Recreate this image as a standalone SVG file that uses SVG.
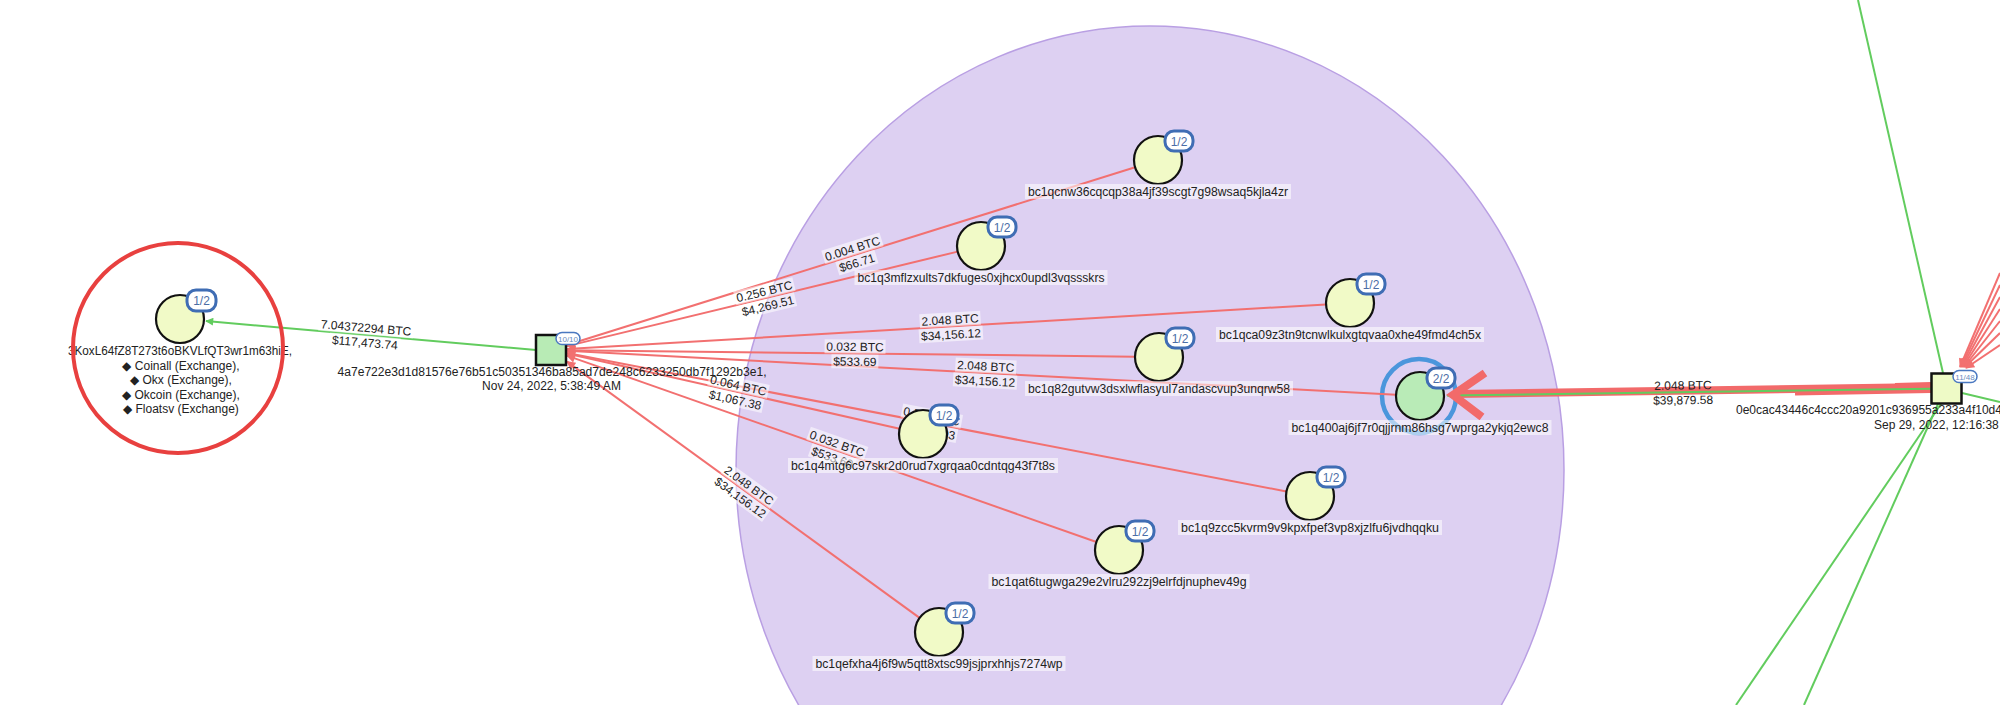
<svg xmlns="http://www.w3.org/2000/svg" width="2000" height="705" viewBox="0 0 2000 705">
<style>
text{font-family:"Liberation Sans",Arial,sans-serif;fill:#222}
.nl{font-size:12px;text-anchor:middle}
.el{font-size:12px;text-anchor:middle}
.bg{fill:#fff;fill-opacity:.55}
.nd{fill:#f1fac7;stroke:#111;stroke-width:2.2}
.ndg{fill:#b9ebb7;stroke:#111;stroke-width:2.2}
.bd{fill:#fff;stroke:#3f6db4;stroke-width:3}
.bt{font-size:12px;fill:#4b6ea6;text-anchor:middle}
.sbd{fill:#fff;stroke:#4a78c0;stroke-width:1.5}
.sbt{font-size:8px;fill:#6a8cc0;text-anchor:middle}
.re{stroke:#f27070;stroke-width:2;fill:none}
.ge{stroke:#62cc5e;stroke-width:2;fill:none}
.band{stroke:#f26a6a;fill:none}
</style>
<defs>
<marker id="ar" viewBox="0 0 10 10" refX="9" refY="5" markerWidth="12" markerHeight="9" markerUnits="userSpaceOnUse" orient="auto"><path d="M0,0 L10,5 L0,10 z" fill="#f27070"/></marker>
<marker id="ag" viewBox="0 0 10 10" refX="9" refY="5" markerWidth="11" markerHeight="8" markerUnits="userSpaceOnUse" orient="auto"><path d="M0,0 L10,5 L0,10 z" fill="#62cc5e"/></marker>
</defs>
<rect width="2000" height="705" fill="#fff"/>
<g id="highlights">
<ellipse cx="1150" cy="470" rx="414" ry="444" fill="#ddd0f2" stroke="#b99fe3" stroke-width="1.5"/>
<circle cx="1419" cy="396" r="37" fill="none" stroke="#4b96dc" stroke-width="4.5"/>
</g>
<g id="connectors">
<path class="ge" d="M536,350 L206,321" marker-end="url(#ag)"/>
<path class="re" d="M1135.1,167.2 L567,345" marker-end="url(#ar)"/>
<path class="re" d="M957.7,251.6 L567,346.1" marker-end="url(#ar)"/>
<path class="re" d="M1326,304.4 L567,349.1" marker-end="url(#ar)"/>
<path class="re" d="M1135,356.7 L567,350.2" marker-end="url(#ar)"/>
<path class="re" d="M1396,394.8 L567,350.8" marker-end="url(#ar)"/>
<path class="re" d="M899.6,428.7 L567,353.6" marker-end="url(#ar)"/>
<path class="re" d="M1286.4,491.5 L567,353.1" marker-end="url(#ar)"/>
<path class="re" d="M1096.4,542 L567,355.6" marker-end="url(#ar)"/>
<path class="re" d="M919.6,617.9 L567,361.6" marker-end="url(#ar)"/>
<path class="ge" d="M1858,0 L1943,373"/>
<path class="ge" d="M1962,393 L2000,402"/>
<path class="ge" d="M1941,404 L1736,705"/>
<path class="ge" d="M1938,404 L1804,705"/>
<path class="re" d="M2000,273 L1960,367" marker-end="url(#ar)"/>
<path class="re" d="M2000,285 L1961,367" marker-end="url(#ar)"/>
<path class="re" d="M2000,297 L1962,367" marker-end="url(#ar)"/>
<path class="re" d="M2000,309 L1963,367" marker-end="url(#ar)"/>
<path class="re" d="M2000,321 L1964,367" marker-end="url(#ar)"/>
<path class="re" d="M2000,333 L1965,367" marker-end="url(#ar)"/>
<path class="re" d="M2000,345 L1966,368" marker-end="url(#ar)"/>
<path class="band" d="M1931,387 L1456,394" stroke-width="8"/>
<path class="band" d="M1931,390 L1795,392.5" stroke-width="6"/>
<path class="band" d="M1931,384.5 L1895,385.5" stroke-width="5"/>
<path class="ge" d="M1931,388.7 L1447,395.5" marker-end="url(#ag)"/>
<path class="band" d="M1485,373 L1453,395 L1482,417" stroke-width="8" stroke-linejoin="miter"/>
<g transform="translate(365.5,334.5) rotate(4.78)"><rect class="bg" x="-47.5" y="-14" width="95" height="14"/><text class="el" y="-2.5">7.04372294 BTC</text><rect class="bg" x="-35.5" y="1" width="71" height="14"/><text class="el" y="12.3">$117,473.74</text></g>
<g transform="translate(854.5,255) rotate(-17.4)"><rect class="bg" x="-30.5" y="-14" width="61" height="14"/><text class="el" y="-2.5">0.004 BTC</text><rect class="bg" x="-20.5" y="1" width="41" height="14"/><text class="el" y="12.3">$66.71</text></g>
<g transform="translate(766,298) rotate(-13.6)"><rect class="bg" x="-30.5" y="-14" width="61" height="14"/><text class="el" y="-2.5">0.256 BTC</text><rect class="bg" x="-28.5" y="1" width="57" height="14"/><text class="el" y="12.3">$4,269.51</text></g>
<g transform="translate(950.5,326.5) rotate(-3.37)"><rect class="bg" x="-30.5" y="-14" width="61" height="14"/><text class="el" y="-2.5">2.048 BTC</text><rect class="bg" x="-32" y="1" width="64" height="14"/><text class="el" y="12.3">$34,156.12</text></g>
<g transform="translate(855,353.5) rotate(0.66)"><rect class="bg" x="-30.5" y="-14" width="61" height="14"/><text class="el" y="-2.5">0.032 BTC</text><rect class="bg" x="-23.5" y="1" width="47" height="14"/><text class="el" y="12.3">$533.69</text></g>
<g transform="translate(985.5,373) rotate(2.96)"><rect class="bg" x="-30.5" y="-14" width="61" height="14"/><text class="el" y="-2.5">2.048 BTC</text><rect class="bg" x="-32" y="1" width="64" height="14"/><text class="el" y="12.3">$34,156.12</text></g>
<g transform="translate(737,392) rotate(12.7)"><rect class="bg" x="-30.5" y="-14" width="61" height="14"/><text class="el" y="-2.5">0.064 BTC</text><rect class="bg" x="-28.5" y="1" width="57" height="14"/><text class="el" y="12.3">$1,067.38</text></g>
<g transform="translate(930.5,423) rotate(10.9)"><rect class="bg" x="-30.5" y="-14" width="61" height="14"/><text class="el" y="-2.5">0.512 BTC</text><rect class="bg" x="-28.5" y="1" width="57" height="14"/><text class="el" y="12.3">$8,539.03</text></g>
<g transform="translate(835,450) rotate(19.4)"><rect class="bg" x="-30.5" y="-14" width="61" height="14"/><text class="el" y="-2.5">0.032 BTC</text><rect class="bg" x="-23.5" y="1" width="47" height="14"/><text class="el" y="12.3">$533.69</text></g>
<g transform="translate(745,491) rotate(36)"><rect class="bg" x="-30.5" y="-14" width="61" height="14"/><text class="el" y="-2.5">2.048 BTC</text><rect class="bg" x="-32" y="1" width="64" height="14"/><text class="el" y="12.3">$34,156.12</text></g>
<g transform="translate(1683,392) rotate(-0.8)"><text class="el" y="-2.5">2.048 BTC</text><text class="el" y="12.3">$39,879.58</text></g>
</g>
<g id="node-L">
<circle class="nd" cx="180" cy="319" r="24"/>
<rect class="bd" x="187" y="290" width="29" height="21" rx="9"/><text class="bt" x="201.5" y="305">1/2</text>
<text class="nl" x="180" y="354.5" textLength="224" lengthAdjust="spacingAndGlyphs">3KoxL64fZ8T273t6oBKVLfQT3wr1m63hiE,</text>
<text class="nl" x="181" y="369.5">◆ Coinall (Exchange),</text>
<text class="nl" x="181" y="384">◆ Okx (Exchange),</text>
<text class="nl" x="181" y="398.5">◆ Okcoin (Exchange),</text>
<text class="nl" x="181" y="413">◆ Floatsv (Exchange)</text>
</g>
<g id="tx-1">
<rect x="536" y="335" width="30" height="30" fill="#b8ebb5" stroke="#111" stroke-width="2.5"/>
<rect class="sbd" x="556" y="332.5" width="24" height="12" rx="6"/><text class="sbt" x="568" y="341.5">10/10</text>
<text class="nl" x="552" y="376" textLength="429" lengthAdjust="spacingAndGlyphs">4a7e722e3d1d81576e76b51c50351346ba85ad7de248c6233250db7f1292b3e1,</text>
<text class="nl" x="551.5" y="390">Nov 24, 2022, 5:38:49 AM</text>
</g>
<g id="tx-2">
<rect x="1931.5" y="373.5" width="30" height="30" fill="#eefac6" stroke="#111" stroke-width="2.5"/>
<rect class="sbd" x="1953" y="370.5" width="24" height="12" rx="6"/><text class="sbt" x="1965" y="379.5">11/48</text>
<text x="1736" y="413.5" font-size="12" textLength="266" lengthAdjust="spacingAndGlyphs">0e0cac43446c4ccc20a9201c936955a233a4f10d4</text>
<text x="1874" y="428.5" font-size="12">Sep 29, 2022, 12:16:38</text>
</g>
<g id="node-A">
<circle class="nd" cx="1158" cy="160" r="24"/>
<rect class="bd" x="1165" y="131" width="28" height="20" rx="9"/><text class="bt" x="1179" y="145.5">1/2</text>
<rect class="bg" x="1025" y="184" width="266" height="15"/><text class="nl" x="1158" y="195.5" textLength="260" lengthAdjust="spacingAndGlyphs">bc1qcnw36cqcqp38a4jf39scgt7g98wsaq5kjla4zr</text>
</g>
<g id="node-B">
<circle class="nd" cx="981" cy="246" r="24"/>
<rect class="bd" x="988" y="217" width="28" height="20" rx="9"/><text class="bt" x="1002" y="231.5">1/2</text>
<rect class="bg" x="854.5" y="270" width="253" height="15"/><text class="nl" x="981" y="281.5" textLength="247" lengthAdjust="spacingAndGlyphs">bc1q3mflzxults7dkfuges0xjhcx0updl3vqssskrs</text>
</g>
<g id="node-C">
<circle class="nd" cx="1350" cy="303" r="24"/>
<rect class="bd" x="1357" y="274" width="28" height="20" rx="9"/><text class="bt" x="1371" y="288.5">1/2</text>
<rect class="bg" x="1216" y="327" width="268" height="15"/><text class="nl" x="1350" y="338.5" textLength="262" lengthAdjust="spacingAndGlyphs">bc1qca09z3tn9tcnwlkulxgtqvaa0xhe49fmd4ch5x</text>
</g>
<g id="node-D">
<circle class="nd" cx="1159" cy="357" r="24"/>
<rect class="bd" x="1166" y="328" width="28" height="20" rx="9"/><text class="bt" x="1180" y="342.5">1/2</text>
<rect class="bg" x="1025" y="381" width="268" height="15"/><text class="nl" x="1159" y="392.5" textLength="262" lengthAdjust="spacingAndGlyphs">bc1q82gutvw3dsxlwflasyul7andascvup3unqrw58</text>
</g>
<g id="node-E">
<circle class="ndg" cx="1420" cy="396" r="24"/>
<rect class="bd" x="1427" y="368" width="28" height="20" rx="9"/><text class="bt" x="1441" y="382.5">2/2</text>
<rect class="bg" x="1288.5" y="420" width="263" height="15"/><text class="nl" x="1420" y="431.5" textLength="257" lengthAdjust="spacingAndGlyphs">bc1q400aj6jf7r0qjjrnm86hsg7wprga2ykjq2ewc8</text>
</g>
<g id="node-F">
<circle class="nd" cx="923" cy="434" r="24"/>
<rect class="bd" x="930" y="405" width="28" height="20" rx="9"/><text class="bt" x="944" y="419.5">1/2</text>
<rect class="bg" x="788" y="458" width="270" height="15"/><text class="nl" x="923" y="469.5" textLength="264" lengthAdjust="spacingAndGlyphs">bc1q4mtg6c97skr2d0rud7xgrqaa0cdntqg43f7t8s</text>
</g>
<g id="node-G">
<circle class="nd" cx="1310" cy="496" r="24"/>
<rect class="bd" x="1317" y="467" width="28" height="20" rx="9"/><text class="bt" x="1331" y="481.5">1/2</text>
<rect class="bg" x="1178" y="520" width="264" height="15"/><text class="nl" x="1310" y="531.5" textLength="258" lengthAdjust="spacingAndGlyphs">bc1q9zcc5kvrm9v9kpxfpef3vp8xjzlfu6jvdhqqku</text>
</g>
<g id="node-H">
<circle class="nd" cx="1119" cy="550" r="24"/>
<rect class="bd" x="1126" y="521" width="28" height="20" rx="9"/><text class="bt" x="1140" y="535.5">1/2</text>
<rect class="bg" x="988.5" y="574" width="261" height="15"/><text class="nl" x="1119" y="585.5" textLength="255" lengthAdjust="spacingAndGlyphs">bc1qat6tugwga29e2vlru292zj9elrfdjnuphev49g</text>
</g>
<g id="node-I">
<circle class="nd" cx="939" cy="632" r="24"/>
<rect class="bd" x="946" y="603" width="28" height="20" rx="9"/><text class="bt" x="960" y="617.5">1/2</text>
<rect class="bg" x="812.5" y="656" width="253" height="15"/><text class="nl" x="939" y="667.5" textLength="247" lengthAdjust="spacingAndGlyphs">bc1qefxha4j6f9w5qtt8xtsc99jsjprxhhjs7274wp</text>
</g>
<g id="highlight-L">
<circle cx="178" cy="348" r="105" fill="none" stroke="#e8403f" stroke-width="4"/>
</g>
</svg>
